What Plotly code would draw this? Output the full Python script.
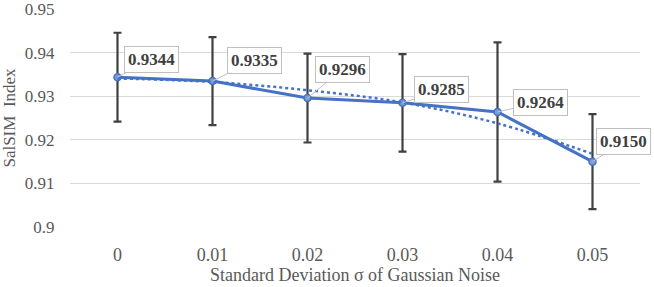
import plotly.graph_objects as go

categories = ["0", "0.01", "0.02", "0.03", "0.04", "0.05"]
salsim = [0.9344, 0.9335, 0.9296, 0.9285, 0.9264, 0.9150]
err = [0.0102, 0.0101, 0.0102, 0.0112, 0.0160, 0.0109]
trend = [0.9341, 0.9333, 0.9314, 0.9286, 0.9238, 0.9168]
labels = ["0.9344", "0.9335", "0.9296", "0.9285", "0.9264", "0.9150"]
label_ax = [34, 42, 35, 39, 43, 31]
label_ay = [-18, -21, -29, -13, -10, -20]
ytick_vals = [0.9, 0.91, 0.92, 0.93, 0.94, 0.95]
ytick_text = ["0.9", "0.91", "0.92", "0.93", "0.94", "0.95"]

blue = "#4472C4"
font = "Liberation Serif, Times New Roman, serif"
clear = "rgba(0,0,0,0)"

xpos = list(range(len(categories)))

fig = go.Figure()
fig.add_trace(go.Scatter(
    x=xpos, y=salsim, mode="lines+markers",
    line=dict(color=blue, width=3),
    marker=dict(size=7, color="#7A9CD9", line=dict(color=blue, width=1.5)),
    error_y=dict(type="data", array=err, visible=True, color="#404040",
                 thickness=2.2, width=4),
    showlegend=False,
))
fig.add_trace(go.Scatter(
    x=xpos, y=trend, mode="lines",
    line=dict(color=blue, width=2.5, dash="dot", shape="spline"),
    showlegend=False, hoverinfo="skip",
))

for i, v, t, ax, ay in zip(xpos, salsim, labels, label_ax, label_ay):
    fig.add_annotation(
        x=i, y=v, text="<b>%s</b>" % t, showarrow=True, arrowhead=0,
        arrowcolor="#BFBFBF", arrowwidth=1, ax=ax, ay=ay,
        bgcolor="white", bordercolor="#BFBFBF", borderwidth=1, borderpad=3,
        font=dict(family=font, size=17, color="#404040"),
    )

fig.update_layout(
    width=654, height=287,
    margin=dict(l=70, r=14, t=9, b=60),
    paper_bgcolor="white", plot_bgcolor="white",
    font=dict(family=font, color="#595959", size=17),
    xaxis=dict(
        range=[-0.5, 5.5], tickvals=xpos, ticktext=categories,
        showgrid=False, zeroline=False, showline=False, automargin=False,
        ticks="outside", ticklen=11, tickcolor=clear,
        tickfont=dict(size=18, color="#595959"),
        title=dict(text="Standard Deviation σ of Gaussian Noise",
                   font=dict(size=18, color="#595959"), standoff=3),
    ),
    yaxis=dict(
        range=[0.9, 0.95005], tickvals=ytick_vals, ticktext=ytick_text,
        showgrid=True, gridcolor="#D9D9D9", gridwidth=1, zeroline=False,
        showline=False, automargin=False,
        ticks="outside", ticklen=11, tickcolor=clear,
        tickfont=dict(size=17, color="#595959"),
        title=dict(text="SalSIM  Index", font=dict(size=17, color="#595959"),
                   standoff=6),
    ),
)

fig.write_html("out.html", config={"displayModeBar": False},
               post_script="document.body.style.margin='0';document.body.style.overflow='hidden';")
